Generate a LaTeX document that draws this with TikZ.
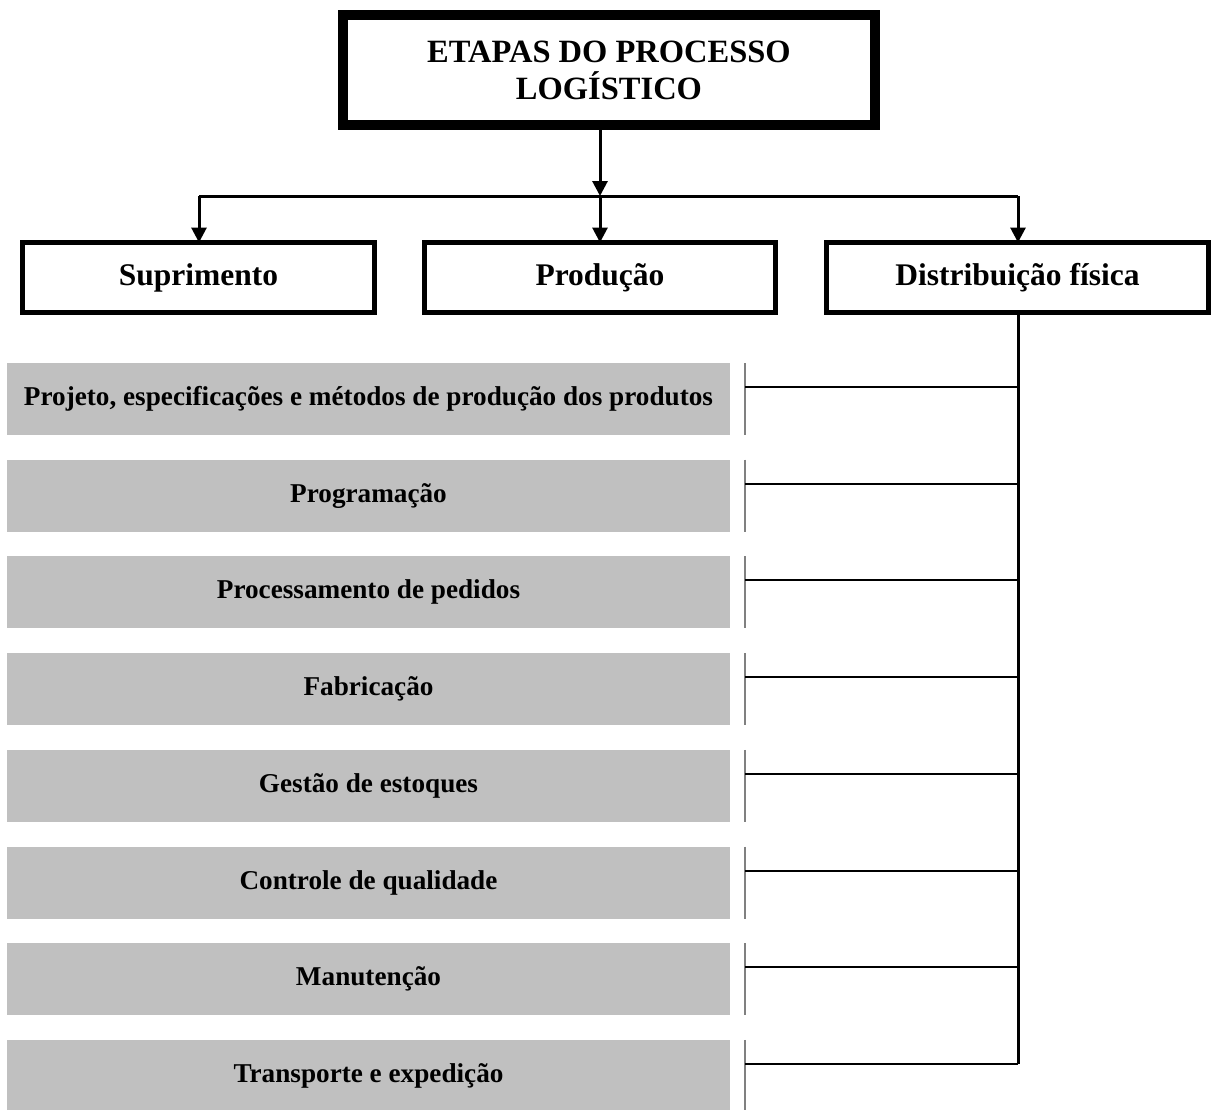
\documentclass[tikz,border=0pt]{standalone}
\usepackage{fontspec}
\setmainfont{Liberation Serif}
\usetikzlibrary{arrows.meta}
\definecolor{barfill}{RGB}{192,192,192}
\definecolor{tickgray}{RGB}{128,128,128}
\begin{document}
\begin{tikzpicture}[x=1pt,y=-1pt,
  every node/.style={inner sep=0pt, outer sep=0pt},
  titlebox/.style={draw, line width=10pt, minimum width=532pt, minimum height=110pt,
    align=center, font=\bfseries\fontsize{32.5}{37}\selectfont},
  stagebox/.style={draw, line width=5pt, minimum height=70pt,
    font=\bfseries\fontsize{31.5}{36}\selectfont},
  activity/.style={fill=barfill, minimum width=723pt, minimum height=72pt,
    font=\bfseries\fontsize{27.2}{30}\selectfont},
  bracket/.style={draw=tickgray, line width=2.5pt},
  link/.style={line width=2pt},
  trunk/.style={line width=3pt},
  feed/.style={line width=3pt, -{Triangle[width=15pt,length=15pt]}}
]
\useasboundingbox (0,0) rectangle (1213,1109);

% top of the hierarchy
\node[titlebox] (top) at (609,70) {ETAPAS DO PROCESSO\\LOGÍSTICO};

% the three stages
\node[stagebox, minimum width=352pt] (sup)  at (198.5,277.5) {Suprimento};
\node[stagebox, minimum width=351pt] (prod) at (600,277.5)   {Produção};
\node[stagebox, minimum width=382pt] (dist) at (1017.5,277.5) {Distribuição física};

% branching connectors
\coordinate (hub) at (600,196);
\coordinate (hl) at (199,196);
\coordinate (hr) at (1018,196);
\draw[feed] (top.south -| hub) -- (hub);
\draw[trunk] (hl) -- (hr);
\draw[feed] (hub) -- (prod.north);
\draw[feed] (hl) -- (sup.north -| hl);
\draw[feed] (hr) -- (dist.north -| hr);

% activities
\foreach \i/\txt in {1/{Projeto, especificações e métodos de produção dos produtos},
                     2/{Programação},
                     3/{Processamento de pedidos},
                     4/{Fabricação},
                     5/{Gestão de estoques},
                     6/{Controle de qualidade},
                     7/{Manutenção},
                     8/{Transporte e expedição}} {
  \pgfmathsetmacro{\yc}{399+96.7*(\i-1)}
  \node[activity] (b\i) at (368.5,\yc) {\txt};
  \coordinate (t\i) at (745,\yc-12);
  \coordinate (j\i) at (1018,\yc-12);
  \draw[bracket] (745,\yc-36) -- (745,\yc+36);
}

% trunk down from the distribution stage and its branches
\draw[trunk] (dist.south -| j1) -- (j8);
\foreach \i in {1,...,8} {
  \draw[link] (j\i) -- (t\i);
}
\end{tikzpicture}
\end{document}
